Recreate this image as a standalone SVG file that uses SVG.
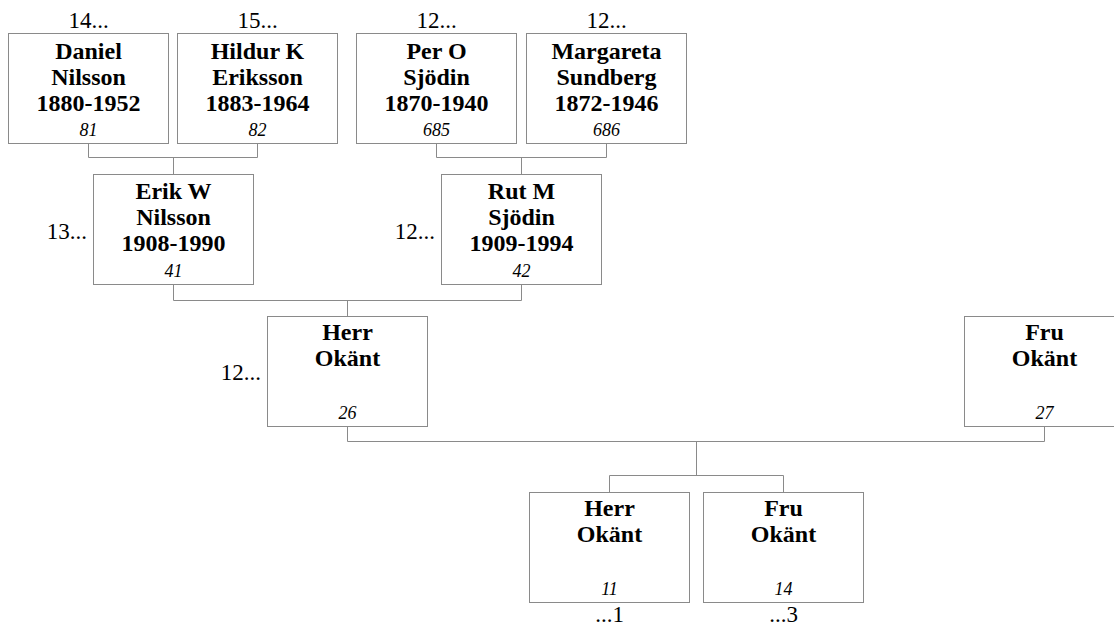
<svg xmlns="http://www.w3.org/2000/svg" width="1114" height="627" viewBox="0 0 1114 627" font-family="Liberation Serif, Times New Roman, DejaVu Serif, serif">
<style>
.box{fill:#fff;stroke:#8a8a8a;stroke-width:1}
.con{fill:none;stroke:#8a8a8a;stroke-width:1}
.nm{font-size:24px;font-weight:bold;text-anchor:middle;fill:#000}
.id{font-size:18px;font-style:italic;text-anchor:middle;fill:#000}
.lb{font-size:23px;fill:#000}
</style>
<rect width="1114" height="627" fill="#fff"/>
<g id="connectors">
<path class="con" d="M88.5,143.5V157.5H257.5V143.5M173.5,157.5V174.5"/>
<path class="con" d="M436.5,143.5V157.5H606.5V143.5M521.5,157.5V174.5"/>
<path class="con" d="M173.5,284.5V300.5H521.5V284.5M347.5,300.5V316.5"/>
<path class="con" d="M347.5,426.5V441.5H1044.5V426.5M696.5,441.5V475.5"/>
<path class="con" d="M609.5,492.5V475.5H783.5V492.5"/>
</g>
<g id="n81">
<rect class="box" x="8.5" y="33.5" width="160" height="110"/>
<text class="lb" x="88.5" y="28" text-anchor="middle">14...</text>
<text class="nm" x="88.5" y="59">Daniel</text>
<text class="nm" x="88.5" y="85">Nilsson</text>
<text class="nm" x="88.5" y="111">1880-1952</text>
<text class="id" x="88.5" y="136">81</text>
</g>
<g id="n82">
<rect class="box" x="177.5" y="33.5" width="160" height="110"/>
<text class="lb" x="257.5" y="28" text-anchor="middle">15...</text>
<text class="nm" x="257.5" y="59">Hildur K</text>
<text class="nm" x="257.5" y="85">Eriksson</text>
<text class="nm" x="257.5" y="111">1883-1964</text>
<text class="id" x="257.5" y="136">82</text>
</g>
<g id="n685">
<rect class="box" x="356.5" y="33.5" width="160" height="110"/>
<text class="lb" x="436.5" y="28" text-anchor="middle">12...</text>
<text class="nm" x="436.5" y="59">Per O</text>
<text class="nm" x="436.5" y="85">Sjödin</text>
<text class="nm" x="436.5" y="111">1870-1940</text>
<text class="id" x="436.5" y="136">685</text>
</g>
<g id="n686">
<rect class="box" x="526.5" y="33.5" width="160" height="110"/>
<text class="lb" x="606.5" y="28" text-anchor="middle">12...</text>
<text class="nm" x="606.5" y="59">Margareta</text>
<text class="nm" x="606.5" y="85">Sundberg</text>
<text class="nm" x="606.5" y="111">1872-1946</text>
<text class="id" x="606.5" y="136">686</text>
</g>
<g id="n41">
<rect class="box" x="93.5" y="174.5" width="160" height="110"/>
<text class="lb" x="87" y="239" text-anchor="end">13...</text>
<text class="nm" x="173.5" y="199">Erik W</text>
<text class="nm" x="173.5" y="225">Nilsson</text>
<text class="nm" x="173.5" y="251">1908-1990</text>
<text class="id" x="173.5" y="277">41</text>
</g>
<g id="n42">
<rect class="box" x="441.5" y="174.5" width="160" height="110"/>
<text class="lb" x="435" y="239" text-anchor="end">12...</text>
<text class="nm" x="521.5" y="199">Rut M</text>
<text class="nm" x="521.5" y="225">Sjödin</text>
<text class="nm" x="521.5" y="251">1909-1994</text>
<text class="id" x="521.5" y="277">42</text>
</g>
<g id="n26">
<rect class="box" x="267.5" y="316.5" width="160" height="110"/>
<text class="lb" x="261" y="380" text-anchor="end">12...</text>
<text class="nm" x="347.5" y="340">Herr</text>
<text class="nm" x="347.5" y="366">Okänt</text>
<text class="id" x="347.5" y="419">26</text>
</g>
<g id="n27">
<rect class="box" x="964.5" y="316.5" width="160" height="110"/>
<text class="nm" x="1044.5" y="340">Fru</text>
<text class="nm" x="1044.5" y="366">Okänt</text>
<text class="id" x="1044.5" y="419">27</text>
</g>
<g id="n11">
<rect class="box" x="529.5" y="492.5" width="160" height="110"/>
<text class="nm" x="609.5" y="516">Herr</text>
<text class="nm" x="609.5" y="542">Okänt</text>
<text class="id" x="609.5" y="595">11</text>
<text class="lb" x="609.5" y="622" text-anchor="middle">...1</text>
</g>
<g id="n14">
<rect class="box" x="703.5" y="492.5" width="160" height="110"/>
<text class="nm" x="783.5" y="516">Fru</text>
<text class="nm" x="783.5" y="542">Okänt</text>
<text class="id" x="783.5" y="595">14</text>
<text class="lb" x="783.5" y="622" text-anchor="middle">...3</text>
</g>
</svg>
